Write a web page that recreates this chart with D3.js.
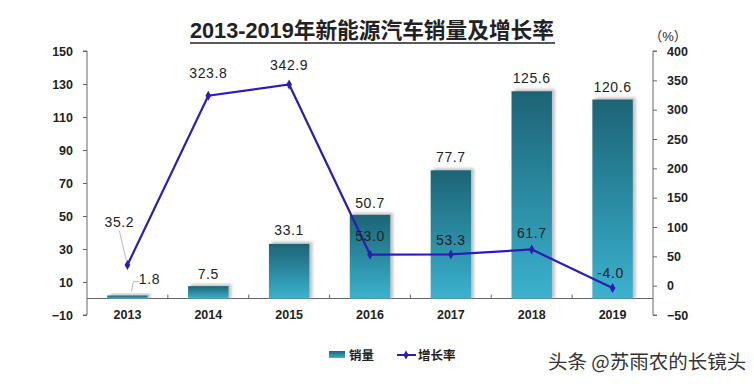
<!DOCTYPE html>
<html lang="zh">
<head>
<meta charset="UTF-8">
<title>新能源汽车销量</title>
<style>
    body { margin: 0; background: #fff; }
    text { font-family: "Liberation Sans", "Noto Sans CJK SC", sans-serif; }
</style>
</head>
<body>
<div id="chart"></div>
<script src="https://cdn.jsdelivr.net/npm/d3@7"></script>
<script>
    // 数据
    var years = ['2013', '2014', '2015', '2016', '2017', '2018', '2019'];
    var sales = [1.8, 7.5, 33.1, 50.7, 77.7, 125.6, 120.6];
    var growth = [35.2, 323.8, 342.9, 53.0, 53.3, 61.7, -4.0];
    var leftTicks = [-10, 10, 30, 50, 70, 90, 110, 130, 150];
    var rightTicks = [-50, 0, 50, 100, 150, 200, 250, 300, 350, 400];

    var W = 754, H = 384;
    var pLeft = 87, pRight = 653, pTop = 51, pBottom = 315;

    var svg = d3.select('#chart').append('svg')
        .attr('width', W).attr('height', H);

    var defs = svg.append('defs');
    var grad = defs.append('linearGradient').attr('id', 'barGrad')
        .attr('x1', 0).attr('y1', 0).attr('x2', 0).attr('y2', 1);
    grad.append('stop').attr('offset', '0%').attr('stop-color', '#1c6475');
    grad.append('stop').attr('offset', '55%').attr('stop-color', '#2b8ea6');
    grad.append('stop').attr('offset', '100%').attr('stop-color', '#3cb2cf');
    defs.append('filter').attr('id', 'blur')
        .append('feGaussianBlur').attr('stdDeviation', 1.5);

    var x = d3.scaleBand().domain(years).range([pLeft, pRight]).paddingInner(0.5).paddingOuter(0.25);
    var yL = d3.scaleLinear().domain([-10, 150]).range([pBottom, pTop]);
    var yR = d3.scaleLinear().domain([-50, 400]).range([pBottom, pTop]);

    // 标题
    svg.append('text')
        .attr('x', 372).attr('y', 38)
        .attr('text-anchor', 'middle')
        .attr('font-size', 22).attr('font-weight', 'bold').attr('fill', '#222')
        .attr('textLength', 364).attr('lengthAdjust', 'spacingAndGlyphs')
        .text('2013-2019年新能源汽车销量及增长率');
    svg.append('line').attr('x1', 190).attr('x2', 555).attr('y1', 43).attr('y2', 43)
        .attr('stroke', '#222').attr('stroke-width', 1.5);
    svg.append('text').attr('x', 668).attr('y', 41).attr('text-anchor', 'middle')
        .attr('font-size', 13).attr('fill', '#222').text('（%）');

    // 坐标轴
    var axL = svg.append('g').attr('transform', 'translate(' + pLeft + ',0)')
        .call(d3.axisLeft(yL).tickValues(leftTicks).tickSize(4).tickPadding(10));
    var axR = svg.append('g').attr('transform', 'translate(' + pRight + ',0)')
        .call(d3.axisRight(yR).tickValues(rightTicks).tickSize(4).tickPadding(10));
    var axB = svg.append('g').attr('transform', 'translate(0,' + yL(0) + ')')
        .call(d3.axisBottom(x).tickSize(0).tickPadding(10));

    [axL, axR, axB].forEach(function (g) {
        g.selectAll('path, line').attr('stroke', '#666');
        g.selectAll('text').attr('font-size', 12.5).attr('font-weight', 'bold').attr('fill', '#222')
            .style('font-family', '"Liberation Sans", sans-serif');
    });
    axL.select('.domain').attr('d', 'M-4,' + pTop + 'H0V' + pBottom + 'H-4');
    axR.select('.domain').attr('d', 'M4,' + pTop + 'H0V' + pBottom + 'H4');
    axB.selectAll('.tick text').attr('dy', '0.71em').attr('y', 12);
    axB.select('.domain').attr('d', 'M' + pLeft + ',0H' + pRight);

    // 分隔刻度
    var step = (pRight - pLeft) / years.length;
    svg.append('g').selectAll('line').data(d3.range(1, years.length)).enter().append('line')
        .attr('x1', function (d) { return pLeft + d * step; })
        .attr('x2', function (d) { return pLeft + d * step; })
        .attr('y1', yL(0) - 4).attr('y2', yL(0))
        .attr('stroke', '#666');

    // 柱子阴影
    svg.append('g').selectAll('rect').data(sales).enter().append('rect')
        .attr('x', function (d, i) { return x(years[i]) + 3; })
        .attr('y', function (d) { return yL(d) - 2; })
        .attr('width', x.bandwidth())
        .attr('height', function (d) { return yL(0) - yL(d) + 2; })
        .attr('fill', '#999').attr('opacity', 0.6)
        .attr('filter', 'url(#blur)');

    svg.append('g').selectAll('rect').data(sales).enter().append('rect')
        .attr('x', function (d, i) { return x(years[i]); })
        .attr('y', function (d) { return yL(d); })
        .attr('width', x.bandwidth())
        .attr('height', function (d) { return yL(0) - yL(d); })
        .attr('fill', 'url(#barGrad)');

    // 增长率折线
    var line = d3.line()
        .x(function (d, i) { return x(years[i]) + x.bandwidth() / 2; })
        .y(function (d) { return yR(d); });
    svg.append('path').datum(growth).attr('d', line)
        .attr('fill', 'none').attr('stroke', '#2a1fae').attr('stroke-width', 2.2);
    svg.append('g').selectAll('path').data(growth).enter().append('path')
        .attr('d', d3.symbol().type(d3.symbolDiamond).size(28))
        .attr('transform', function (d, i) {
            return 'translate(' + (x(years[i]) + x.bandwidth() / 2) + ',' + yR(d) + ')';
        })
        .attr('fill', '#2a1fae');

    // 数据标签
    var labelStyle = function (sel) {
        sel.attr('text-anchor', 'middle').attr('font-size', 14).attr('fill', '#222')
            .attr('letter-spacing', 0.6)
            .style('font-family', '"Liberation Sans", sans-serif');
    };
    var salesDx = [22, 0, 0, 0, 0, 0, 0];
    var salesDy = [-12, -7, -9, -7, -8, -8, -8];
    svg.append('g').selectAll('text').data(sales).enter().append('text')
        .attr('x', function (d, i) { return x(years[i]) + x.bandwidth() / 2 + salesDx[i]; })
        .attr('y', function (d, i) { return yL(d) + salesDy[i]; })
        .text(function (d) { return d.toFixed(1); })
        .call(labelStyle);

    var growthDx = [-8, 0, 0, 0, 0, 0, -2];
    var growthDy = [-38, -18, -14, -14, -9, -11, -10];
    svg.append('g').selectAll('text').data(growth).enter().append('text')
        .attr('x', function (d, i) { return x(years[i]) + x.bandwidth() / 2 + growthDx[i]; })
        .attr('y', function (d, i) { return yR(d) + growthDy[i]; })
        .text(function (d) { return d.toFixed(1); })
        .call(labelStyle);

    // 引导线
    var cx0 = x(years[0]) + x.bandwidth() / 2;
    svg.append('line').attr('x1', cx0 - 8).attr('y1', yR(growth[0]) - 34)
        .attr('x2', cx0 - 1).attr('y2', yR(growth[0]) - 4)
        .attr('stroke', '#bbb').attr('stroke-width', 1);
    svg.append('path')
        .attr('d', 'M' + (cx0 + 12) + ',' + (yL(sales[0]) - 14) + 'h-6l-2,10')
        .attr('fill', 'none').attr('stroke', '#bbb').attr('stroke-width', 1);

    // 图例
    var lg = svg.append('g').attr('transform', 'translate(0,355)');
    lg.append('rect').attr('x', 329).attr('y', -4).attr('width', 16).attr('height', 7)
        .attr('fill', 'url(#barGrad)');
    lg.append('text').attr('x', 349).attr('y', 5).attr('font-size', 12.5).attr('font-weight', 'bold')
        .attr('fill', '#222').text('销量');
    lg.append('line').attr('x1', 397).attr('x2', 416).attr('y1', 0).attr('y2', 0)
        .attr('stroke', '#2a1fae').attr('stroke-width', 2);
    lg.append('path').attr('d', d3.symbol().type(d3.symbolDiamond).size(24))
        .attr('transform', 'translate(406,0)').attr('fill', '#2a1fae');
    lg.append('text').attr('x', 418).attr('y', 5).attr('font-size', 12.5).attr('font-weight', 'bold')
        .attr('fill', '#222').text('增长率');

    // 水印
    svg.append('text').attr('x', 548).attr('y', 369)
        .attr('font-size', 19.5).attr('fill', '#333')
        .attr('stroke', '#fff').attr('stroke-width', 3).attr('paint-order', 'stroke')
        .style('font-family', '"Noto Sans CJK SC", sans-serif')
        .text('头条 @苏雨农的长镜头');
</script>
</body>
</html>
